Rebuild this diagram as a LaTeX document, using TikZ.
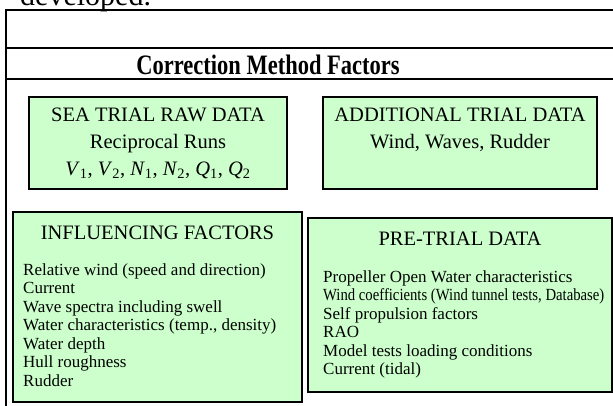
\documentclass[tikz,border=0pt]{standalone}
\usepackage{graphicx}
\usepackage{fontspec}
\setmainfont{Liberation Serif}
\usetikzlibrary{shadows}
\definecolor{boxgreen}{HTML}{CCFFCC}
\begin{document}
\begin{tikzpicture}[x=1pt,y=-1pt,
  rule/.style={line width=2pt, line cap=rect},
  greenbox/.style={draw=black, line width=1.2pt, fill=boxgreen, inner sep=0pt, outer sep=0pt,
    drop shadow={shadow xshift=1.2pt, shadow yshift=-1.2pt, fill=gray!70, opacity=1}},
  headfont/.style={font=\fontsize{20.5}{27}\selectfont},
  bodyfont/.style={font=\fontsize{17}{18.5}\selectfont}
]
\useasboundingbox (0,0) rectangle (613,405);
\begin{scope}
\clip (0,0) rectangle (613,405);
\node[anchor=base west, inner sep=0pt, font=\fontsize{30}{30}\selectfont] (dev) at (20,5) {developed.};
\end{scope}
% table frame
\coordinate (tl) at (6,10);
\coordinate (tr) at (613,10);
\coordinate (ml) at (6,48);
\coordinate (mr) at (613,48);
\coordinate (bl) at (6,79);
\coordinate (br) at (613,79);
\coordinate (bot) at (6,405);
\draw[rule] (tl) -- (tr);
\draw[rule] (ml) -- (mr);
\draw[rule] (bl) -- (br);
\draw[rule] (tl) -- (bot);
\node[font=\fontsize{22.5}{24}\bfseries, inner sep=0pt] (title) at (268,64.5) {\scalebox{1}[1.25]{Correction Method Factors}};
% upper boxes
\node[greenbox, headfont, align=center, minimum width=258pt, minimum height=92pt] (sea) at (158,143)
  {SEA TRIAL RAW DATA\\Reciprocal Runs\\\textit{V}\textsubscript{1}, \textit{V}\textsubscript{2}, \textit{N}\textsubscript{1}, \textit{N}\textsubscript{2}, \textit{Q}\textsubscript{1}, \textit{Q}\textsubscript{2}};
\node[greenbox, headfont, align=center, minimum width=274pt, minimum height=92pt] (add) at (460,143)
  {ADDITIONAL TRIAL DATA\\Wind, Waves, Rudder\\\phantom{\textit{V}\textsubscript{1}}};
% lower boxes
\node[greenbox, minimum width=289pt, minimum height=190pt] (infl) at (157.5,307) {};
\node[greenbox, minimum width=304pt, minimum height=174pt] (pre) at (460,305) {};
\node[headfont, anchor=base, inner sep=0pt] (inflhead) at (157.5,239) {INFLUENCING FACTORS};
\node[headfont, anchor=base, inner sep=0pt] (prehead) at (460,245) {PRE-TRIAL DATA};
\node[bodyfont, anchor=north west, align=left, inner sep=0pt] (infllist) at (23,263)
  {Relative wind (speed and direction)\\Current\\Wave spectra including swell\\Water characteristics (temp., density)\\Water depth\\Hull roughness\\Rudder};
\node[bodyfont, anchor=north west, align=left, inner sep=0pt] (prelist) at (323,270)
  {Propeller Open Water characteristics\\\scalebox{0.865}[1]{Wind coefficients (Wind tunnel tests, Database)}\\Self propulsion factors\\RAO\\Model tests loading conditions\\Current (tidal)};
\end{tikzpicture}
\end{document}
